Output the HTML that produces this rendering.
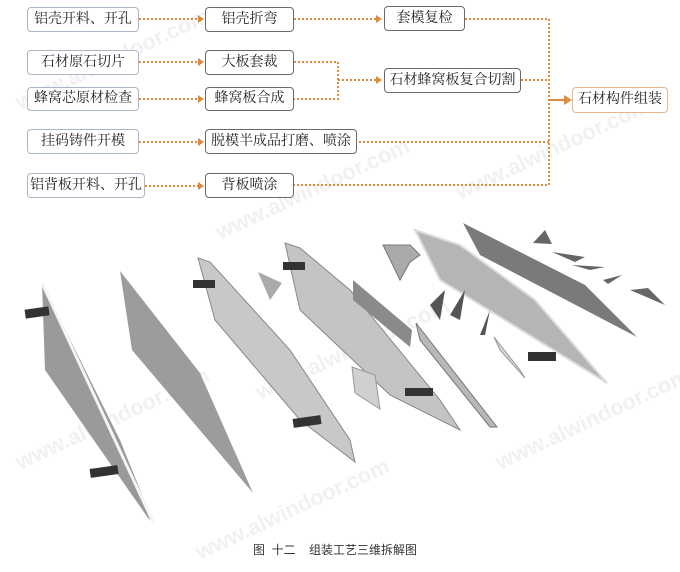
<!DOCTYPE html>
<html><head><meta charset="utf-8"><style>
body{margin:0;width:680px;height:572px;background:#fff;overflow:hidden;position:relative;font-family:"Liberation Serif","Noto Serif CJK SC",serif}
.b{position:absolute;border:1px solid #6a6a6a;border-radius:4px;background:#fff;font-size:14px;color:#222;text-align:center;box-sizing:border-box;white-space:nowrap}
.l{border-color:#a9b6c8}
.f{border-color:#e8b68c}
svg{position:absolute;left:0;top:0}
.cap{position:absolute;left:253px;top:541px;font-family:"Liberation Sans","Noto Sans CJK SC",sans-serif;font-size:12px;color:#333;white-space:pre}
</style></head><body>
<svg width="680" height="572">
<g fill="#f1f1f1" font-family="Liberation Sans" font-size="22" font-weight="bold">
<text transform="translate(20,110) rotate(-25)">www.alwindoor.com</text>
<text transform="translate(220,240) rotate(-25)">www.alwindoor.com</text>
<text transform="translate(460,200) rotate(-25)">www.alwindoor.com</text>
<text transform="translate(20,470) rotate(-25)">www.alwindoor.com</text>
<text transform="translate(260,400) rotate(-25)">www.alwindoor.com</text>
<text transform="translate(500,470) rotate(-25)">www.alwindoor.com</text>
<text transform="translate(200,560) rotate(-25)">www.alwindoor.com</text>
</g>
<g stroke="#e08a3c" stroke-width="2" stroke-dasharray="2,2" fill="none">
<path d="M139 19H200M139 62H200M139 99H200M139 142H200M145 186H200"/>
<path d="M294 19H378M294 62H338V99H294M338 80H378"/>
<path d="M465 19H549V185H294M521 80H549M355 142H549"/>
</g>
<g fill="#e08a3c">
<path d="M198 15l6 4-6 4zM198 58l6 4-6 4zM198 95l6 4-6 4zM198 138l6 4-6 4zM198 182l6 4-6 4zM376 15l6 4-6 4zM376 76l6 4-6 4z"/>
</g>
<path d="M549 100H566" stroke="#e08a3c" stroke-width="2"/><path d="M564 95l8 5-8 5z" fill="#e08a3c"/>
<polygon points="42,283 45,370 148,518 153,522 120,440" fill="#9a9a9a"/>
<line x1="42" y1="283" x2="153" y2="522" stroke="#f4f4f4" stroke-width="3"/>
<rect x="25" y="308" width="24" height="9" fill="#333" transform="rotate(-8 37 312)"/>
<rect x="90" y="467" width="28" height="9" fill="#333" transform="rotate(-8 104 471)"/>
<polygon points="120,271 132,350 253,493 200,373" fill="#9c9c9c"/>
<polygon points="198,258 215,320 300,420 355,462 350,440 290,350 210,262" fill="#c8c8c8" stroke="#888"/>
<rect x="193" y="280" width="22" height="8" fill="#333"/>
<rect x="293" y="417" width="28" height="9" fill="#333" transform="rotate(-8 307 421)"/>
<polygon points="258,272 270,300 282,283" fill="#aaa"/>
<polygon points="285,243 300,310 390,395 460,430 440,400 350,290 300,248" fill="#c4c4c4" stroke="#888"/>
<rect x="283" y="262" width="22" height="8" fill="#333"/>
<polygon points="353,280 353,300 410,347 412,330" fill="#8a8a8a"/>
<polygon points="416,323 420,340 490,427 497,427" fill="#b8b8b8" stroke="#777"/>
<polygon points="352,367 355,393 380,409 375,375" fill="#d0d0d0" stroke="#999"/>
<rect x="405" y="388" width="28" height="8" fill="#333"/>
<polygon points="383,245 400,280 410,262 420,255 410,245" fill="#aaa" stroke="#777"/>
<polygon points="415,230 440,280 607,383 535,300 460,245" fill="#b5b5b5" stroke="#ddd" stroke-width="2"/>
<polygon points="430,305 445,290 440,320" fill="#555"/>
<polygon points="450,315 465,290 460,320" fill="#555"/>
<polygon points="480,335 490,310 485,335" fill="#555"/>
<polygon points="494,337 520,370 525,378 500,350" fill="#d8d8d8" stroke="#999"/>
<rect x="528" y="352" width="28" height="9" fill="#333"/>
<polygon points="463,223 480,255 637,337 585,285" fill="#7a7a7a"/>
<polygon points="533,243 545,230 552,244" fill="#666"/>
<polygon points="552,252 585,257 575,262" fill="#666"/>
<polygon points="572,265 605,267 590,270" fill="#666"/>
<polygon points="603,280 622,275 608,284" fill="#666"/>
<polygon points="630,290 648,288 665,305" fill="#666"/>
</svg>
<div class="b l" style="left:27px;top:7px;width:112px;height:25px;line-height:23px">铝壳开料、开孔</div>
<div class="b l" style="left:27px;top:50px;width:112px;height:25px;line-height:23px">石材原石切片</div>
<div class="b l" style="left:27px;top:87px;width:112px;height:24px;line-height:22px">蜂窝芯原材检查</div>
<div class="b l" style="left:27px;top:129px;width:112px;height:25px;line-height:23px">挂码铸件开模</div>
<div class="b l" style="left:27px;top:173px;width:118px;height:25px;line-height:23px">铝背板开料、开孔</div>
<div class="b" style="left:205px;top:7px;width:89px;height:25px;line-height:23px">铝壳折弯</div>
<div class="b" style="left:205px;top:50px;width:89px;height:25px;line-height:23px">大板套裁</div>
<div class="b" style="left:205px;top:87px;width:89px;height:24px;line-height:22px">蜂窝板合成</div>
<div class="b" style="left:205px;top:129px;width:152px;height:25px;line-height:23px">脱模半成品打磨、喷涂</div>
<div class="b" style="left:205px;top:173px;width:89px;height:25px;line-height:23px">背板喷涂</div>
<div class="b" style="left:384px;top:6px;width:81px;height:25px;line-height:23px">套模复检</div>
<div class="b" style="left:384px;top:68px;width:137px;height:25px;line-height:23px">石材蜂窝板复合切割</div>
<div class="b f" style="left:572px;top:87px;width:96px;height:26px;line-height:24px">石材构件组装</div>
<div class="cap">图  十二    组装工艺三维拆解图</div>
</body></html>
